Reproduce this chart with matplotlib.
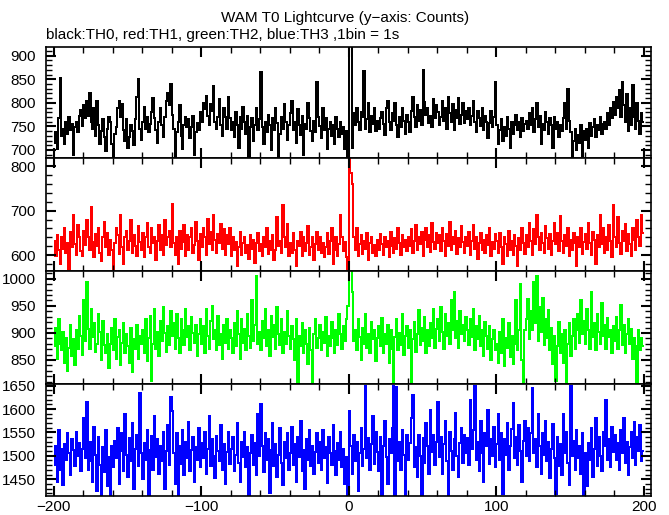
import numpy as np
import matplotlib
matplotlib.use("Agg")
import matplotlib.pyplot as plt
from matplotlib.ticker import MultipleLocator

plt.rcParams['font.family'] = ['Liberation Sans', 'DejaVu Sans']

# counts per 1 s bin, time from -200 s to +199 s
th0 = [
    715, 738, 702, 768, 852, 730, 745, 712, 760, 735, 770, 742, 755, 690, 748, 760, 738, 772, 785, 750,
    795, 768, 805, 772, 820, 760, 745, 790, 730, 805, 752, 712, 740, 765, 728, 698, 745, 770, 760, 712,
    678, 735, 748, 790, 805, 770, 798, 742, 720, 765, 705, 728, 752, 740, 710, 765, 812, 850, 745, 722,
    760, 792, 745, 770, 738, 755, 780, 810, 768, 742, 715, 760, 790, 752, 728, 770, 803, 822, 795, 840,
    775, 745, 680, 738, 760, 795, 730, 702, 752, 770, 748, 765, 725, 748, 772, 690, 738, 758, 742, 780,
    760, 800, 788, 815, 772, 752, 798, 782, 835, 760, 745, 770, 808, 752, 730, 790, 770, 745, 812, 768,
    742, 760, 728, 780, 752, 705, 770, 745, 792, 760, 735, 772, 682, 748, 768, 720, 752, 790, 742, 765,
    865, 748, 712, 760, 738, 775, 752, 700, 768, 742, 790, 758, 680, 735, 770, 745, 798, 760, 722, 752,
    778, 805, 742, 760, 715, 788, 752, 732, 772, 690, 755, 745, 800, 768, 740, 720, 762, 738, 845, 770,
    750, 725, 790, 742, 768, 702, 745, 760, 730, 752, 712, 770, 745, 728, 760, 735, 748, 702, 740, 672,
    975, 960, 705, 778, 752, 790, 760, 742, 780, 770, 868, 745, 765, 800, 738, 772, 755, 790, 740, 762,
    745, 768, 780, 755, 732, 790, 805, 760, 742, 778, 762, 800, 752, 728, 770, 748, 790, 762, 735, 775,
    760, 738, 782, 812, 770, 748, 795, 762, 785, 752, 870, 802, 775, 790, 758, 772, 748, 808, 768, 795,
    780, 752, 770, 805, 762, 790, 745, 812, 778, 760, 798, 742, 785, 768, 810, 755, 775, 800, 758, 782,
    765, 790, 752, 772, 805, 760, 738, 782, 768, 750, 790, 742, 772, 760, 725, 758, 782, 748, 770, 845,
    752, 712, 742, 765, 720, 748, 730, 770, 745, 705, 760, 735, 752, 775, 742, 760, 728, 768, 740, 755,
    762, 745, 778, 752, 790, 738, 765, 800, 748, 772, 712, 755, 742, 780, 760, 735, 768, 752, 705, 770,
    745, 760, 728, 752, 740, 768, 800, 745, 830, 762, 738, 685, 720, 745, 700, 732, 715, 752, 688, 740,
    722, 745, 705, 758, 730, 748, 765, 728, 752, 742, 770, 735, 755, 760, 745, 778, 752, 790, 768, 802,
    775, 812, 790, 828, 770, 845, 795, 760, 818, 740, 790, 752, 838, 770, 745, 800, 762, 735, 778, 760,
]

th1 = [
    632, 598, 645, 612, 580, 640, 615, 660, 605, 628, 570, 652, 618, 690, 625, 600, 668, 642, 610, 598,
    655, 622, 680, 640, 612, 708, 630, 595, 648, 620, 662, 605, 588, 640, 675, 618, 650, 600, 635, 612,
    570, 628, 660, 645, 602, 690, 618, 580, 640, 655, 612, 632, 678, 605, 645, 620, 598, 665, 630, 612,
    650, 595, 640, 672, 618, 605, 660, 628, 642, 590, 632, 668, 612, 645, 600, 680, 622, 640, 655, 618,
    715, 628, 600, 642, 580, 655, 615, 630, 668, 598, 645, 612, 640, 660, 605, 622, 675, 632, 590, 648,
    618, 662, 640, 600, 682, 625, 652, 612, 690, 635, 605, 648, 628, 670, 615, 658, 600, 645, 625, 660,
    598, 642, 612, 630, 575, 618, 652, 600, 628, 640, 605, 622, 592, 645, 615, 635, 582, 628, 650, 610,
    625, 598, 640, 618, 660, 602, 632, 612, 645, 590, 612, 685, 620, 632, 605, 712, 640, 618, 670, 598,
    628, 605, 650, 612, 575, 632, 620, 652, 598, 640, 610, 628, 665, 600, 618, 642, 590, 625, 652, 612,
    640, 605, 628, 595, 618, 650, 602, 632, 660, 580, 612, 642, 598, 625, 690, 640, 610, 630, 595, 570,
    830, 785, 760, 640, 612, 660, 598, 625, 645, 602, 632, 615, 650, 590, 628, 640, 605, 622, 598, 635,
    612, 648, 625, 600, 640, 618, 632, 595, 652, 620, 605, 638, 615, 660, 628, 600, 645, 618, 635, 610,
    642, 620, 658, 605, 632, 668, 612, 640, 625, 652, 598, 635, 662, 618, 645, 608, 672, 630, 615, 650,
    628, 645, 610, 660, 632, 598, 648, 620, 675, 612, 640, 625, 655, 602, 638, 618, 665, 630, 605, 642,
    620, 652, 600, 632, 668, 615, 640, 592, 628, 650, 612, 635, 605, 645, 622, 660, 598, 630, 615, 648,
    632, 605, 650, 618, 580, 640, 625, 598, 655, 612, 632, 600, 645, 620, 575, 638, 612, 660, 628, 602,
    645, 618, 672, 632, 600, 658, 625, 690, 640, 612, 650, 628, 605, 665, 638, 615, 648, 600, 632, 672,
    625, 650, 610, 688, 632, 605, 645, 620, 660, 598, 635, 612, 650, 628, 575, 642, 618, 660, 602, 630,
    648, 615, 672, 628, 600, 652, 635, 580, 645, 618, 690, 625, 660, 605, 640, 612, 668, 632, 595, 712,
    640, 618, 685, 628, 602, 655, 632, 670, 610, 648, 625, 598, 660, 635, 612, 678, 640, 620, 690, 650,
]

th2 = [
    875, 910, 852, 925, 880, 868, 902, 845, 890, 830, 872, 915, 858, 888, 840, 905, 870, 932, 895, 860,
    960, 885, 995, 908, 870, 945, 892, 918, 865, 880, 935, 902, 850, 922, 878, 862, 898, 835, 880, 910,
    868, 925, 852, 892, 905, 840, 882, 918, 862, 898, 875, 845, 910, 828, 888, 870, 915, 852, 895, 880,
    905, 862, 925, 848, 890, 932, 812, 880, 945, 870, 902, 858, 922, 885, 948, 900, 865, 912, 878, 940,
    895, 918, 870, 935, 890, 862, 925, 905, 878, 945, 892, 912, 868, 930, 900, 882, 915, 858, 898, 925,
    880, 912, 862, 945, 895, 870, 922, 950, 888, 905, 868, 932, 878, 898, 852, 915, 882, 925, 870, 905,
    890, 862, 918, 875, 940, 898, 852, 925, 882, 908, 868, 935, 895, 872, 960, 885, 915, 1005, 880, 902,
    868, 922, 890, 945, 875, 905, 858, 932, 892, 915, 870, 948, 898, 878, 925, 862, 902, 880, 940, 895,
    870, 912, 888, 850, 925, 805, 895, 875, 918, 862, 905, 880, 842, 910, 868, 805, 898, 925, 872, 890,
    915, 868, 902, 882, 930, 858, 895, 875, 920, 890, 862, 905, 878, 935, 898, 870, 912, 885, 925, 950,
    1020, 1018, 975, 885, 905, 868, 925, 892, 850, 910, 880, 935, 872, 898, 862, 920, 888, 905, 848, 890,
    912, 875, 928, 862, 898, 880, 915, 845, 905, 870, 808, 892, 925, 868, 900, 878, 935, 860, 895, 912,
    872, 905, 806, 888, 920, 865, 898, 942, 878, 910, 885, 930, 862, 905, 875, 918, 890, 945, 872, 908,
    925, 885, 948, 902, 870, 935, 895, 918, 880, 960, 905, 975, 890, 922, 872, 940, 898, 915, 885, 930,
    905, 878, 925, 892, 945, 868, 912, 888, 932, 875, 905, 858, 920, 895, 870, 912, 850, 888, 905, 868,
    880, 845, 902, 862, 925, 838, 890, 872, 918, 855, 895, 842, 880, 960, 868, 905, 990, 850, 808, 905,
    925, 962, 888, 940, 905, 995, 918, 1005, 885, 948, 902, 965, 878, 925, 890, 942, 868, 910, 842, 895,
    812, 875, 920, 862, 898, 845, 905, 808, 880, 918, 858, 895, 925, 870, 905, 935, 882, 960, 898, 922,
    880, 945, 905, 870, 975, 892, 918, 868, 935, 902, 880, 955, 895, 915, 870, 928, 892, 905, 862, 912,
    885, 930, 870, 905, 952, 878, 915, 862, 898, 925, 880, 908, 852, 890, 875, 808, 905, 868, 890, 875,
]

th3 = [
    1480, 1520, 1445, 1555, 1470, 1515, 1438, 1525, 1490, 1548, 1505, 1460, 1535, 1512, 1478, 1550, 1500, 1528, 1468, 1515,
    1580, 1495, 1615, 1470, 1530, 1488, 1445, 1562, 1502, 1425, 1540, 1480, 1410, 1518, 1465, 1555, 1435, 1498, 1410, 1522,
    1475, 1532, 1495, 1560, 1440, 1510, 1548, 1468, 1590, 1502, 1455, 1538, 1488, 1570, 1428, 1515, 1545, 1478, 1635, 1505,
    1450, 1528, 1490, 1555, 1412, 1512, 1542, 1470, 1585, 1498, 1535, 1462, 1520, 1488, 1550, 1430, 1510, 1565, 1480, 1625,
    1595, 1505, 1440, 1548, 1410, 1520, 1482, 1555, 1458, 1530, 1495, 1572, 1468, 1512, 1540, 1445, 1518, 1490, 1560, 1475,
    1528, 1495, 1550, 1462, 1515, 1585, 1478, 1535, 1500, 1452, 1542, 1510, 1488, 1565, 1470, 1525, 1440, 1508, 1550, 1482,
    1515, 1540, 1468, 1502, 1570, 1485, 1445, 1530, 1498, 1552, 1475, 1518, 1412, 1505, 1545, 1480, 1528, 1460, 1590, 1500,
    1610, 1520, 1465, 1548, 1490, 1535, 1420, 1512, 1570, 1478, 1525, 1455, 1502, 1560, 1485, 1438, 1530, 1495, 1548, 1470,
    1505, 1562, 1480, 1525, 1445, 1540, 1498, 1575, 1468, 1512, 1430, 1535, 1490, 1555, 1478, 1520, 1462, 1508, 1548, 1485,
    1530, 1470, 1555, 1495, 1518, 1442, 1540, 1505, 1480, 1565, 1510, 1458, 1528, 1492, 1550, 1475, 1515, 1440, 1498, 1412,
    1595, 1520, 1462, 1545, 1488, 1530, 1425, 1505, 1560, 1478, 1515, 1650, 1495, 1538, 1470, 1525, 1585, 1482, 1550, 1508,
    1468, 1540, 1412, 1520, 1575, 1498, 1440, 1535, 1505, 1560, 1650, 1415, 1648, 1488, 1530, 1470, 1555, 1502, 1410, 1545,
    1492, 1528, 1580, 1630, 1475, 1518, 1455, 1545, 1500, 1412, 1538, 1485, 1570, 1520, 1462, 1598, 1508, 1545, 1480, 1530,
    1615, 1498, 1540, 1462, 1525, 1575, 1488, 1412, 1552, 1510, 1470, 1535, 1592, 1500, 1455, 1528, 1560, 1485, 1545, 1505,
    1538, 1480, 1620, 1515, 1555, 1650, 1492, 1530, 1468, 1575, 1505, 1445, 1548, 1520, 1598, 1482, 1535, 1500, 1562, 1475,
    1525, 1590, 1490, 1548, 1418, 1535, 1502, 1570, 1470, 1520, 1558, 1612, 1495, 1540, 1480, 1565, 1510, 1445, 1532, 1575,
    1500, 1560, 1488, 1548, 1645, 1505, 1535, 1475, 1590, 1520, 1462, 1548, 1502, 1575, 1488, 1530, 1452, 1515, 1568, 1495,
    1418, 1540, 1478, 1525, 1460, 1590, 1505, 1550, 1485, 1438, 1650, 1500, 1532, 1470, 1555, 1495, 1520, 1462, 1548, 1412,
    1505, 1435, 1528, 1490, 1560, 1455, 1515, 1580, 1478, 1540, 1500, 1468, 1552, 1520, 1620, 1492, 1535, 1475, 1562, 1508,
    1545, 1490, 1528, 1470, 1555, 1505, 1580, 1485, 1530, 1460, 1518, 1550, 1495, 1572, 1480, 1540, 1510, 1565, 1488, 1510,
]

series = [th0, th1, th2, th3]
colors = ['black', 'red', '#00ff00', 'blue']
ylims = [(683, 918), (564, 818), (805, 1014), (1414, 1653)]
ymajor = [50, 100, 50, 50]
yminor = [10, 20, 10, 10]

edges = np.arange(-200, 201)

fig = plt.figure(figsize=(6.69, 5.15), dpi=100)
tops = [47.3, 158.0, 271.3, 384.3]
bots = [158.0, 271.3, 384.3, 496.0]
H = 515.0
left, right = 45.5 / 669, 650.5 / 669

for k in range(4):
    y0 = 1 - bots[k] / H
    h = (bots[k] - tops[k]) / H
    ax = fig.add_axes([left, y0, right - left, h])
    ax.stairs(series[k], edges, baseline=None, color=colors[k], lw=1.1, antialiased=False)
    ax.set_xlim(-205.5, 204.5)
    ax.set_ylim(*ylims[k])
    ax.xaxis.set_major_locator(MultipleLocator(100))
    ax.xaxis.set_minor_locator(MultipleLocator(20))
    ax.yaxis.set_major_locator(MultipleLocator(ymajor[k]))
    ax.yaxis.set_minor_locator(MultipleLocator(yminor[k]))
    ax.tick_params(which='both', direction='in', top=True, right=True, labelsize=11, pad=7)
    ax.tick_params(which='major', length=7, width=1.5)
    ax.tick_params(which='minor', length=4, width=1)
    ax.tick_params(axis='x', pad=3)
    for s in ax.spines.values():
        s.set_linewidth(1.2)
    if k < 3:
        ax.tick_params(axis='x', labelbottom=False)

fig.text(0.516, 0.965, 'WAM T0 Lightcurve (y\u2212axis: Counts)', ha='center', va='center', fontsize=11)
fig.text(left, 0.932, 'black:TH0, red:TH1, green:TH2, blue:TH3 ,1bin = 1s', ha='left', va='center', fontsize=11)

fig.savefig('out.png', dpi=100)
